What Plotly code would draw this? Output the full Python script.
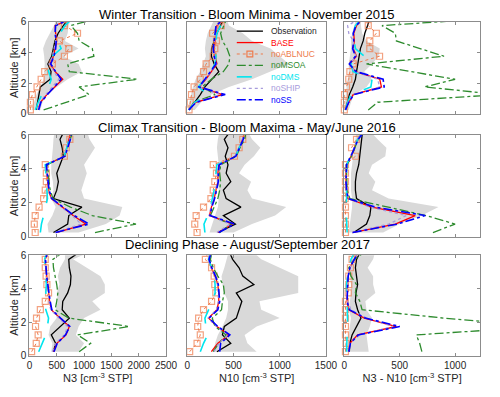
import plotly.graph_objects as go
from plotly.subplots import make_subplots

# altitude bins [km] (0.5 km bins, last one only reaches the top edge)
alt = [0.25, 0.75, 1.25, 1.75, 2.25, 2.75, 3.25, 3.75, 4.25, 4.75, 5.25, 5.75, 6.25]

# ---- Winter Transition - November 2015 ----
nov_n3_obs = [124, 150, 180, 200, 380, 396, 337, 408, 437, 467, 526, 615, 720]
nov_n3_lo = [40, 80, 130, 200, 260, 270, 280, 270, 250, 300, 380, 450, 500]
nov_n3_hi = [200, 240, 330, 500, 700, 960, 900, 620, 900, 650, 700, 720, 750]
nov_n3_base = [160, 200, 320, 470, 610, 470, 380, 440, 470, 500, 480, 470, 800]
nov_n3_noabl = [18, 18, 53, 140, 215, 280, 420, 640, 720, 550, 880, 640, 700]
nov_n3_nomsoa = [260, 680, 1090, 910, 1975, 730, 700, 1180, 1150, 910, 880, 760, 1300]
nov_n3_nodms = [110, 160, 230, 350, 400, 350, 330, 420, 580, 520, 560, 650, 800]
nov_n3_noship = [150, 190, 300, 420, 540, 450, 360, 420, 450, 480, 470, 470, 780]
nov_n3_noss = [170, 210, 330, 450, 580, 480, 390, 450, 480, 490, 470, 480, 800]

nov_n10_obs = [20, 80, 140, 190, 260, 340, 290, 260, 262, 290, 320, 360, 400]
nov_n10_lo = [5, 20, 40, 60, 90, 140, 170, 200, 190, 200, 220, 260, 300]
nov_n10_hi = [80, 150, 260, 450, 700, 900, 1100, 1000, 900, 700, 600, 450, 420]
nov_n10_base = [15, 90, 380, 130, 200, 260, 320, 300, 290, 300, 310, 320, 420]
nov_n10_noabl = [18, 31, 45, 73, 140, 175, 203, 280, 297, 315, 273, 367, 420]
nov_n10_nomsoa = [20, 70, 300, 160, 260, 390, 450, 460, 430, 380, 360, 390, 430]
nov_n10_nodms = [15, 80, 220, 120, 190, 250, 300, 310, 290, 310, 320, 360, 420]
nov_n10_noship = [15, 85, 350, 130, 195, 255, 315, 295, 285, 295, 305, 315, 415]
nov_n10_noss = [15, 95, 410, 125, 190, 250, 310, 290, 280, 290, 300, 310, 410]

nov_d_obs = [10, 25, 45, 75, 100, 110, 120, 130, 145, 170, 185, 210, 230]
nov_d_lo = [0, 5, 10, 20, 30, 40, 40, 50, 60, 60, 70, 90, 110]
nov_d_hi = [40, 60, 90, 200, 250, 180, 250, 310, 320, 200, 160, 150, 150]
nov_d_base = [10, 40, 80, 335, 320, 100, 50, 110, 80, 90, 85, 110, 170]
nov_d_noabl = [0, 0, 2, 20, 40, 50, 80, 318, 230, 230, 289, 216, 250]
nov_d_nomsoa = [216, 300, 1400, 725, 1000, 600, 200, 900, 680, 470, 460, 340, 1400]
nov_d_nodms = [10, 30, 60, 240, 250, 80, 60, 180, 100, 90, 80, 100, 160]
nov_d_noship = [10, 35, 75, 320, 300, 95, 50, 105, 80, 80, 40, 30, 150]
nov_d_noss = [10, 40, 85, 360, 350, 105, 45, 100, 75, 85, 80, 105, 180]

# ---- Climax Transition - May/June 2016 ----
mj_n3_obs = [440, 700, 720, 960, 440, 500, 530, 500, 560, 620, 600, 560, 640]
mj_n3_lo = [350, 330, 420, 480, 400, 440, 430, 400, 400, 420, 430, 440, 460]
mj_n3_hi = [900, 1400, 1650, 1700, 1000, 950, 1000, 1050, 1000, 1100, 1200, 1100, 1050]
mj_n3_base = [490, 1030, 800, 600, 400, 350, 330, 320, 300, 650, 690, 740, 760]
mj_n3_noabl = [106, 89, 106, 177, 260, 290, 310, 310, 290, 640, 674, 740, 770]
mj_n3_nomsoa = [1200, 1950, 1150, 750, 430, 380, 360, 350, 330, 640, 700, 760, 800]
mj_n3_nodms = [200, 220, 260, 300, 330, 320, 310, 300, 290, 640, 690, 740, 770]
mj_n3_noship = [470, 950, 780, 600, 400, 350, 330, 320, 300, 640, 690, 740, 760]
mj_n3_noss = [480, 1090, 820, 620, 410, 360, 340, 330, 310, 650, 700, 750, 770]

mj_n10_obs = [330, 520, 390, 580, 420, 390, 470, 420, 440, 410, 440, 400, 470]
mj_n10_lo = [240, 270, 300, 330, 340, 340, 330, 330, 340, 330, 320, 330, 350]
mj_n10_hi = [500, 700, 950, 1070, 700, 650, 690, 560, 620, 720, 790, 700, 650]
mj_n10_base = [330, 490, 240, 260, 290, 310, 330, 330, 340, 520, 560, 600, 620]
mj_n10_noabl = [105, 80, 95, 175, 255, 280, 297, 315, 280, 510, 560, 600, 620]
mj_n10_nomsoa = [350, 470, 250, 290, 330, 350, 360, 350, 360, 530, 570, 620, 640]
mj_n10_nodms = [190, 180, 220, 250, 270, 290, 300, 310, 320, 520, 560, 600, 620]
mj_n10_noship = [320, 460, 235, 255, 285, 305, 325, 325, 335, 515, 555, 595, 615]
mj_n10_noss = [340, 510, 245, 265, 295, 315, 335, 335, 345, 525, 565, 605, 625]

mj_d_obs = [85, 200, 230, 240, 110, 100, 100, 110, 130, 140, 145, 155, 165]
mj_d_lo = [40, 50, 60, 70, 70, 60, 60, 60, 70, 80, 90, 100, 110]
mj_d_hi = [350, 500, 700, 850, 400, 250, 280, 220, 250, 370, 380, 300, 230]
mj_d_base = [70, 460, 640, 250, 30, 20, 15, 15, 20, 60, 90, 120, 180]
mj_d_noabl = [10, 10, 10, 10, 8, 10, 10, 10, 10, 100, 65, 110, 170]
mj_d_nomsoa = [800, 1000, 740, 380, 50, 25, 20, 20, 25, 65, 95, 125, 185]
mj_d_nodms = [25, 20, 15, 15, 20, 20, 15, 15, 20, 55, 90, 120, 180]
mj_d_noship = [70, 400, 560, 230, 35, 20, 15, 15, 20, 55, 90, 120, 180]
mj_d_noss = [75, 480, 730, 280, 35, 20, 15, 15, 20, 60, 95, 125, 185]

# ---- Declining Phase - August/September 2017 ----
as_n3_obs = [440, 480, 400, 560, 730, 600, 610, 700, 750, 760, 730, 720, 950]
as_n3_lo = [400, 420, 350, 380, 500, 480, 520, 500, 550, 520, 560, 650, 650]
as_n3_hi = [900, 1000, 850, 900, 1000, 1300, 1150, 1380, 1380, 1300, 1050, 800, 1150]
as_n3_base = [440, 500, 670, 730, 560, 400, 370, 350, 330, 310, 300, 290, 350]
as_n3_noabl = [40, 125, 160, 112, 130, 200, 290, 350, 320, 305, 290, 290, 310]
as_n3_nomsoa = [910, 1120, 880, 1830, 720, 470, 500, 520, 500, 470, 440, 430, 650]
as_n3_nodms = [170, 240, 300, 330, 350, 300, 290, 300, 310, 300, 290, 280, 320]
as_n3_noship = [420, 480, 640, 700, 540, 390, 360, 345, 325, 305, 295, 285, 330]
as_n3_noss = [450, 510, 660, 740, 570, 410, 380, 355, 335, 315, 305, 295, 340]

as_n10_obs = [320, 470, 380, 400, 530, 560, 590, 530, 720, 600, 560, 490, 450]
as_n10_lo = [280, 300, 330, 380, 420, 440, 440, 400, 380, 370, 400, 430, 450]
as_n10_hi = [750, 650, 620, 750, 1000, 800, 780, 1200, 1200, 1200, 1000, 800, 700]
as_n10_base = [260, 330, 450, 320, 230, 320, 340, 340, 330, 300, 260, 230, 260]
as_n10_noabl = [25, 105, 140, 112, 122, 175, 262, 308, 297, 290, 262, 195, 230]
as_n10_nomsoa = [280, 340, 420, 300, 270, 370, 380, 400, 390, 330, 280, 250, 270]
as_n10_nodms = [140, 175, 220, 200, 190, 230, 270, 300, 300, 290, 260, 230, 250]
as_n10_noship = [290, 340, 440, 315, 225, 315, 335, 335, 325, 295, 255, 225, 255]
as_n10_noss = [350, 360, 460, 330, 235, 330, 350, 345, 335, 305, 265, 235, 265]

as_d_obs = [45, 50, 70, 110, 150, 120, 100, 105, 120, 110, 100, 110, 150]
as_d_lo = [20, 30, 40, 50, 60, 40, 50, 60, 60, 50, 60, 70, 80]
as_d_hi = [220, 210, 200, 230, 250, 200, 190, 280, 260, 260, 210, 260, 280]
as_d_base = [40, 50, 120, 470, 180, 40, 25, 25, 30, 35, 50, 90, 130]
as_d_noabl = [10, 15, 10, 10, 10, 10, 10, 35, 40, 40, 55, 70, 110]
as_d_nomsoa = [700, 680, 650, 1800, 900, 160, 140, 100, 110, 60, 40, 90, 200]
as_d_nodms = [20, 20, 25, 30, 30, 25, 25, 20, 20, 30, 40, 60, 100]
as_d_noship = [40, 50, 140, 440, 200, 60, 30, 25, 30, 35, 50, 85, 130]
as_d_noss = [40, 55, 125, 500, 190, 45, 25, 25, 30, 35, 50, 90, 135]

row_titles = ["Winter Transition - Bloom Minima - November 2015",
              "Climax Transition - Bloom Maxima - May/June 2016",
              "Declining Phase - August/September 2017"]
x_titles = ["N3 [cm<sup>-3</sup> STP]", "N10 [cm<sup>-3</sup> STP]",
            "N3 - N10 [cm<sup>-3</sup> STP]"]
x_ranges = [[0, 2500], [0, 1500], [0, 1225]]
x_ticks = [[0, 500, 1000, 1500, 2000, 2500], [0, 500, 1000, 1500], [0, 500, 1000]]
y_ticks = [0, 2, 4, 6]

panels = [
    [(nov_n3_obs, nov_n3_lo, nov_n3_hi, nov_n3_base, nov_n3_noabl, nov_n3_nomsoa, nov_n3_nodms, nov_n3_noship, nov_n3_noss),
     (nov_n10_obs, nov_n10_lo, nov_n10_hi, nov_n10_base, nov_n10_noabl, nov_n10_nomsoa, nov_n10_nodms, nov_n10_noship, nov_n10_noss),
     (nov_d_obs, nov_d_lo, nov_d_hi, nov_d_base, nov_d_noabl, nov_d_nomsoa, nov_d_nodms, nov_d_noship, nov_d_noss)],
    [(mj_n3_obs, mj_n3_lo, mj_n3_hi, mj_n3_base, mj_n3_noabl, mj_n3_nomsoa, mj_n3_nodms, mj_n3_noship, mj_n3_noss),
     (mj_n10_obs, mj_n10_lo, mj_n10_hi, mj_n10_base, mj_n10_noabl, mj_n10_nomsoa, mj_n10_nodms, mj_n10_noship, mj_n10_noss),
     (mj_d_obs, mj_d_lo, mj_d_hi, mj_d_base, mj_d_noabl, mj_d_nomsoa, mj_d_nodms, mj_d_noship, mj_d_noss)],
    [(as_n3_obs, as_n3_lo, as_n3_hi, as_n3_base, as_n3_noabl, as_n3_nomsoa, as_n3_nodms, as_n3_noship, as_n3_noss),
     (as_n10_obs, as_n10_lo, as_n10_hi, as_n10_base, as_n10_noabl, as_n10_nomsoa, as_n10_nodms, as_n10_noship, as_n10_noss),
     (as_d_obs, as_d_lo, as_d_hi, as_d_base, as_d_noabl, as_d_nomsoa, as_d_nodms, as_d_noship, as_d_noss)],
]

ORANGE = "#EE7B4C"
GREEN = "#2E8B2E"
CYAN = "#00E5EE"
LAVENDER = "#A79BDC"
# name, colour, dash, width  (order = plotting order after the obs line)
models = [
    ("BASE", "#FF0000", "solid", 1.3),
    ("noABLNUC", ORANGE, "dot", 1.0),
    ("noMSOA", GREEN, "dashdot", 1.3),
    ("noDMS", CYAN, "longdash", 1.6),
    ("noSHIP", LAVENDER, "dot", 1.3),
    ("noSS", "#0000FF", "dashdot", 1.6),
]

FONT = "Liberation Sans, Arial, Helvetica, sans-serif"
# the page body keeps its default 8px margin, so the figure is 16px smaller
OFF = 8
W, H = 500 - 2 * OFF, 397 - 2 * OFF


def px(x):
    return min(max((x - OFF) / W, 0), 1)


def py(y):
    return min(max(1 - (y - OFF) / H, 0), 1)


x_dom = [(27, 168), (190, 333), (352, 492)]
y_dom = [(16, 111), (133, 238), (257, 361)]

fig = make_subplots(rows=3, cols=3)

for r in range(3):
    for c in range(3):
        obs, lo, hi, *runs = panels[r][c]
        # observed range (grey envelope)
        fig.add_trace(go.Scatter(
            x=lo + hi[::-1], y=alt + alt[::-1], fill="toself",
            fillcolor="#D9D9D9", line=dict(width=0), mode="lines",
            hoverinfo="skip", showlegend=False), row=r + 1, col=c + 1)
        fig.add_trace(go.Scatter(
            x=obs, y=alt, mode="lines", name="Observation",
            line=dict(color="black", width=1.3), showlegend=False),
            row=r + 1, col=c + 1)
        for (name, color, dash, width), vals in zip(models, runs):
            if name == "noABLNUC":
                kw = dict(mode="lines+markers", cliponaxis=False,
                          marker=dict(symbol="square-open", size=[6] * (len(alt) - 1) + [0],
                                      color=color, line=dict(width=1.2)))
            else:
                kw = dict(mode="lines")
            fig.add_trace(go.Scatter(
                x=vals, y=alt, name=name,
                line=dict(color=color, dash=dash, width=width),
                showlegend=False, **kw), row=r + 1, col=c + 1)

        fig.update_xaxes(
            domain=[px(x_dom[c][0]), px(x_dom[c][1])], range=x_ranges[c],
            tickvals=x_ticks[c], showticklabels=(r == 2),
            row=r + 1, col=c + 1)
        fig.update_yaxes(
            domain=[py(y_dom[r][1]), py(y_dom[r][0])], range=[0, 6],
            tickvals=y_ticks, showticklabels=(c == 0),
            row=r + 1, col=c + 1)
        if r == 2:
            fig.update_xaxes(title=dict(text=x_titles[c], standoff=3,
                                        font=dict(size=11, color="#262626")),
                             row=r + 1, col=c + 1)
        if c == 0:
            fig.update_yaxes(title=dict(text="Altitude [km]", standoff=2,
                                        font=dict(size=11, color="#262626")),
                             row=r + 1, col=c + 1)

axis_style = dict(showgrid=False, zeroline=False, showline=True, mirror="ticks",
                  linecolor="#8C8C8C", linewidth=1, ticks="inside", ticklen=3,
                  tickcolor="#8C8C8C", tickfont=dict(size=10, color="#262626"))
fig.update_xaxes(**axis_style)
fig.update_yaxes(**axis_style)

annotations = []
for yc, txt in zip([8, 125, 246.5], row_titles):
    annotations.append(dict(text=txt, x=px(252), y=py(yc), xref="paper", yref="paper",
                            xanchor="center", yanchor="middle", showarrow=False,
                            font=dict(size=13, color="black")))

# legend drawn in the first-row middle panel (compact MATLAB-style spacing)
legend_items = [("Observation", "#262626", "black", "solid", 1.3)] + \
    [(n, col, col, d, w) for n, col, d, w in models]
shapes = []
for i, (name, tcol, lcol, dash, width) in enumerate(legend_items):
    yc = 25.7 + 11.8 * i
    shapes.append(dict(type="line", xref="paper", yref="paper",
                       x0=px(241), x1=px(268), y0=py(yc), y1=py(yc),
                       line=dict(color=lcol, dash=dash, width=width)))
    if name == "noABLNUC":
        shapes.append(dict(type="rect", xref="paper", yref="paper",
                           x0=px(251.5), x1=px(257.5), y0=py(yc + 3), y1=py(yc - 3),
                           line=dict(color=lcol, width=1.2)))
    annotations.append(dict(text=name, x=px(274), y=py(yc), xref="paper", yref="paper",
                            xanchor="left", yanchor="middle", showarrow=False,
                            font=dict(size=8.5, color=tcol)))

fig.update_layout(
    width=W, height=H, margin=dict(l=0, r=0, t=0, b=0),
    paper_bgcolor="white", plot_bgcolor="white",
    font=dict(family=FONT, color="#262626"),
    showlegend=False, annotations=annotations, shapes=shapes,
)

fig.write_html("out.html")
